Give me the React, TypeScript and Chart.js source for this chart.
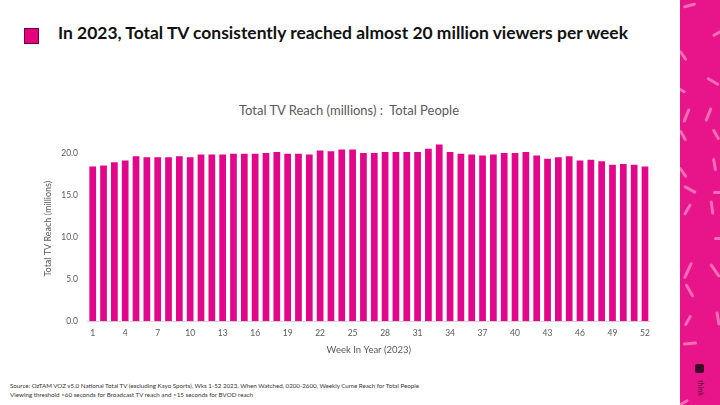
import React, { useEffect, useLayoutEffect, useRef } from 'react';
import { Chart, registerables } from 'chart.js';

Chart.register(...registerables);

const weeks = [
  '1', '2', '3', '4', '5', '6', '7', '8', '9', '10',
  '11', '12', '13', '14', '15', '16', '17', '18', '19', '20',
  '21', '22', '23', '24', '25', '26', '27', '28', '29', '30',
  '31', '32', '33', '34', '35', '36', '37', '38', '39', '40',
  '41', '42', '43', '44', '45', '46', '47', '48', '49', '50',
  '51', '52',
];

const reach = [
  18.4, 18.5, 18.9, 19.1, 19.6, 19.5, 19.5, 19.5, 19.6, 19.5,
  19.8, 19.8, 19.8, 19.9, 19.9, 19.9, 20.0, 20.1, 19.9, 19.9,
  19.8, 20.3, 20.2, 20.4, 20.4, 20.0, 20.0, 20.1, 20.1, 20.1,
  20.1, 20.5, 21.0, 20.1, 19.9, 19.8, 19.7, 19.8, 20.0, 20.0,
  20.1, 19.7, 19.3, 19.5, 19.6, 19.1, 19.2, 19.0, 18.6, 18.7,
  18.6, 18.4,
];

const xTickLabels = ['1', '4', '7', '10', '13', '16', '19', '22', '25', '28', '31', '34', '37', '40', '43', '46', '49', '52'];
const yTicks = [0, 5, 10, 15, 20];

const headline = 'In 2023, Total TV consistently reached almost 20 million viewers per week';
const chartTitle = 'Total TV Reach (millions) :  Total People';
const xTitle = 'Week In Year (2023)';
const yTitle = 'Total TV Reach (millions)';
const sourceLine1 = 'Source: OzTAM VOZ v5.0 National Total TV (excluding Kayo Sports), Wks 1-52 2023, When Watched, 0200-2600, Weekly Cume Reach for Total People';
const sourceLine2 = 'Viewing threshold >60 seconds for Broadcast TV reach and >15 seconds for BVOD reach';

const PINK = '#E2068A';
const GREY = '#595959';

function FitText({ text, width, style, center }: { text: string; width: number; style: React.CSSProperties; center?: boolean }) {
  const ref = useRef<HTMLSpanElement>(null);
  useLayoutEffect(() => {
    const el = ref.current;
    if (!el) return;
    el.style.transform = center ? 'translateX(-50%)' : 'none';
    const w = el.getBoundingClientRect().width;
    if (w > 0) el.style.transform = `${center ? 'translateX(-50%) ' : ''}scaleX(${width / w})`;
  }, [text, width]);
  return (
    <span
      ref={ref}
      style={{ position: 'absolute', whiteSpace: 'pre', transformOrigin: center ? 'center center' : 'left center', ...style }}
    >
      {text}
    </span>
  );
}

const dashes: [number, number, number, number][] = [
  // x, y, length, angle(deg)
  [689, 5, 13, -15],
  [683, 55, 12, 55],
  [717, 33, 10, -30],
  [713, 81, 14, 30],
  [682, 90, 8, 30],
  [686, 115, 15, -68],
  [708, 114, 15, -68],
  [683, 135, 12, 60],
  [716, 134, 12, 60],
  [714, 164, 13, 80],
  [683, 172, 12, 55],
  [690, 189, 14, 28],
  [717, 192, 8, 0],
  [687, 209, 13, -60],
  [712, 207, 14, 82],
  [718, 238, 8, 0],
  [688, 270, 18, -65],
  [715, 270, 16, 55],
  [689, 290, 15, 60],
  [718, 318, 14, 80],
  [688, 320, 12, -60],
  [690, 343, 14, -5],
  [684, 402, 10, -30],
];

export default function App() {
  const canvasRef = useRef<HTMLCanvasElement>(null);

  useEffect(() => {
    const canvas = canvasRef.current;
    if (!canvas) return;
    const chart = new Chart(canvas, {
      type: 'bar',
      data: {
        labels: weeks,
        datasets: [
          {
            data: reach,
            backgroundColor: PINK,
            borderWidth: 0,
            categoryPercentage: 1,
            barPercentage: 0.62,
          },
        ],
      },
      options: {
        animation: false,
        responsive: false,
        devicePixelRatio: 1,
        layout: { padding: { left: 30, right: 29.6, top: 41.1, bottom: 0 } },
        plugins: {
          legend: { display: false },
          tooltip: { enabled: false },
          title: { display: false },
        },
        scales: {
          x: {
            grid: { display: false, drawTicks: false },
            border: { display: true, color: '#D9D9D9', width: 1 },
            ticks: {
              color: GREY,
              font: { family: 'Lato', size: 8.5 },
              padding: 7,
              autoSkip: false,
              maxRotation: 0,
              minRotation: 0,
              callback: (_v: any, i: number) => (xTickLabels.includes(weeks[i]) ? weeks[i] : ''),
            },
            title: {
              display: true,
              text: xTitle,
              color: GREY,
              font: { family: 'Lato', size: 9.5, lineHeight: 1 },
              padding: { top: 0, bottom: 5 },
            },
          },
          y: {
            min: 0,
            max: 22,
            grid: { display: false, drawTicks: false },
            border: { display: false },
            afterBuildTicks: (scale: any) => {
              scale.ticks = yTicks.map((v) => ({ value: v }));
            },
            afterFit: (scale: any) => {
              scale.width = 57.3;
            },
            ticks: {
              color: GREY,
              font: { family: 'Lato', size: 8.5 },
              padding: 9.3,
              callback: (v: any) => Number(v).toFixed(1),
            },
            title: {
              display: true,
              text: yTitle,
              color: GREY,
              font: { family: 'Lato', size: 9 },
              padding: { top: 12.6, bottom: 0 },
            },
          },
        },
      },
    });
    return () => chart.destroy();
  }, []);

  return (
    <div
      style={{
        position: 'fixed',
        left: 0,
        top: 0,
        width: 720,
        height: 405,
        background: '#ffffff',
        overflow: 'hidden',
        fontFamily: 'Lato, sans-serif',
      }}
    >
      <div
        style={{
          position: 'absolute',
          left: 24,
          top: 28,
          width: 15,
          height: 16,
          boxSizing: 'border-box',
          background: '#E6007E',
          border: '1px solid #6b0039',
        }}
      />
      <FitText
        text={headline}
        width={570}
        style={{ left: 58, top: 23.4, fontSize: 17, lineHeight: '20px', fontWeight: 700, color: '#111111' }}
      />

      <FitText
        text={chartTitle}
        width={220}
        center
        style={{ left: 349, top: 102, fontSize: 13, lineHeight: '16px', color: GREY }}
      />

      <div style={{ position: 'absolute', left: 0, top: 95, width: 680, height: 265 }}>
        <canvas ref={canvasRef} width={680} height={265} style={{ display: 'block', width: 680, height: 265 }} />
      </div>

      <FitText
        text={sourceLine1}
        width={409}
        style={{ left: 10, top: 380.8, fontSize: 6, lineHeight: '9px', color: '#333333' }}
      />
      <FitText
        text={sourceLine2}
        width={243}
        style={{ left: 10, top: 389.6, fontSize: 6, lineHeight: '9px', color: '#333333' }}
      />

      <div style={{ position: 'absolute', left: 680, top: 0, width: 40, height: 405, background: '#E8158A', overflow: 'hidden' }}>
        {dashes.map(([x, y, len, ang], i) => (
          <div
            key={i}
            style={{
              position: 'absolute',
              left: x - 680 - len / 2,
              top: y - 1.5,
              width: len,
              height: 3,
              borderRadius: 1.5,
              background: 'rgba(255,255,255,0.38)',
              transform: `rotate(${ang}deg)`,
            }}
          />
        ))}
        <div
          style={{
            position: 'absolute',
            left: 15,
            top: 364,
            width: 9,
            height: 9,
            borderRadius: 2,
            background: '#3a0a26',
          }}
        />
        <span
          style={{
            position: 'absolute',
            left: 13,
            top: 384,
            fontSize: 7,
            fontWeight: 700,
            color: '#6a1044',
            transform: 'rotate(90deg)',
            transformOrigin: 'center',
            whiteSpace: 'nowrap',
          }}
        >
          think
        </span>
      </div>
    </div>
  );
}
